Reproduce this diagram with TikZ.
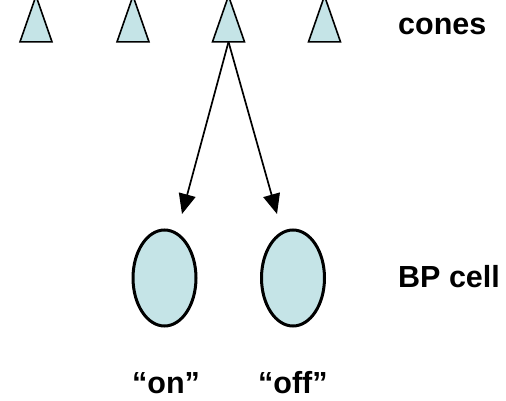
\documentclass[tikz,border=0pt]{standalone}
\usepackage{fontspec}
\setmainfont{Liberation Sans}
\usetikzlibrary{shapes.geometric,arrows.meta}
\definecolor{cellblue}{RGB}{197,228,231}
\begin{document}
\begin{tikzpicture}[x=1pt,y=1pt,
  cone/.style={draw=black,line width=1.6pt,fill=cellblue,isosceles triangle,
    isosceles triangle stretches,shape border rotate=90,
    minimum height=46pt,minimum width=32pt,inner sep=0pt,outer sep=0pt},
  cell/.style={draw=black,line width=3pt,fill=cellblue,ellipse,
    minimum width=63pt,minimum height=96pt,inner sep=0pt},
  lbl/.style={font=\fontsize{30.5}{36}\selectfont\bfseries,inner sep=0pt,anchor=base west},
  link/.style={line width=1.7pt,-{Triangle[length=20pt,width=17pt]}}]
\useasboundingbox (0,0) rectangle (506,400);
\node[cone] (c1) at (36,369.5) {};
\node[cone] (c2) at (133,369.5) {};
\node[cone] (c3) at (228.5,369.5) {};
\node[cone] (c4) at (324.5,369.5) {};
\node[lbl] (tcones) at (398,365) {cones};
\node[cell] (on) at (164.5,122) {};
\node[cell] (off) at (293,122) {};
\node[lbl] (tbp) at (398,113) {BP cell};
\node[lbl] (ton) at (132,7) {“on”};
\node[lbl] (toff) at (258,7) {“off”};
\coordinate (a1) at (182,186);
\coordinate (a2) at (277,186);
\draw[link] (c3.south) -- (a1);
\draw[link] (c3.south) -- (a2);
\end{tikzpicture}
\end{document}
